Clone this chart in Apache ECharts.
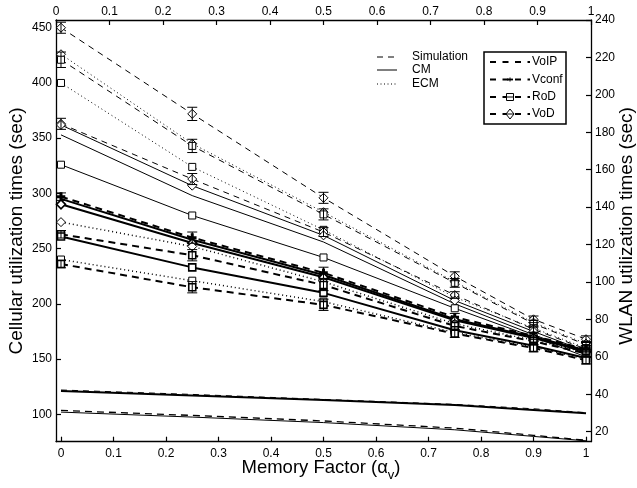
<!DOCTYPE html>
<html>
<head>
<meta charset="utf-8">
<script src="https://cdn.jsdelivr.net/npm/echarts@6/dist/echarts.min.js"></script>
<style>html,body{margin:0;padding:0;background:#fff}#c{width:637px;height:488px}</style>
</head>
<body>
<div id="c"></div>
<script>
// x positions (memory factor)
const xs = [0, 0.25, 0.5, 0.75, 0.9, 1];
const xTicks = [0, 0.1, 0.2, 0.3, 0.4, 0.5, 0.6, 0.7, 0.8, 0.9, 1];
const leftTicks = [100, 150, 200, 250, 300, 350, 400, 450];
const rightTicks = [20, 40, 60, 80, 100, 120, 140, 160, 180, 200, 220, 240];

// Cellular utilization (left axis, sec)
const cellVoDSim   = [450, 372, 296, 225, 186, 168];
const cellVoDSimErr= [5, 6, 5, 4, 3, 3];
const cellVoDEcm   = [426, 345, 283, 220, 183, 164];
const cellRoDSim   = [421, 343, 281, 219, 182, 163];
const cellRoDSimErr= [7, 6, 5, 4, 3, 3];
const cellRoDEcm   = [400, 324, 267, 206, 178, 160];
const cellVconfSim = [363, 313, 265, 208, 177, 159];
const cellVconfSimErr = [5, 5, 4, 3, 3, 2];
const cellVoDCM    = [362, 307, 262, 203, 175, 157];
const cellVconfCM  = [353, 298, 256, 200, 172, 155];
const cellRoDCM    = [326, 280, 242, 196, 170, 152];
const cellVoIPCM   = [121, 117, 113, 108.5, 104, 101];
const cellVoIPSim  = [122, 118, 113.5, 109, 105, 101.5];
const cellVoIPCM2  = [102, 97.5, 92.5, 86, 80, 76];
const cellVoIPSim2 = [103.5, 99, 94, 87.5, 81, 76.5];

// WLAN utilization (right axis, sec)
const wlanVconfSim = [145.6, 123.7, 104.9, 81.2, 71.2, 64.1];
const wlanVconfSimErr = [2, 3, 3, 2, 2, 2];
const wlanVoDCM    = [144.4, 122.6, 103.7, 80.1, 70.6, 63.5];
const wlanVoDCM2   = [141.5, 120.8, 102.5, 79.5, 70.0, 62.9];
const wlanVoDEcm   = [132.0, 119.0, 100.1, 77.7, 68.9, 62.4];
const wlanRoDSim   = [125.5, 114.3, 98.4, 76.5, 68.3, 61.8];
const wlanRoDSimErr= [2, 3, 3, 2, 2, 2];
const wlanRoDCM    = [124.3, 107.8, 94.2, 74.2, 65.9, 59.4];
const wlanRoDEcm   = [112.0, 100.7, 89.5, 73.0, 65.3, 58.8];
const wlanVoIPSim  = [109.6, 97.2, 87.8, 72.4, 64.7, 58.2];
const wlanVoIPSimErr = [2, 3, 3, 2, 2, 2];

const DASH = [6, 5], DASH_T = [7, 5], DOT = [1, 3];
const PLUS = 'path://M4,0L6,0L6,4L10,4L10,6L6,6L6,10L4,10L4,6L0,6L0,4L4,4Z';

function ln(name, vals, axis, type, width, symbol, size) {
  return {
    name, type: 'line', xAxisIndex: 0, yAxisIndex: axis,
    data: xs.map((x, i) => [x, vals[i]]),
    lineStyle: { color: '#000', width, type },
    symbol: symbol || 'none', symbolSize: size || 7,
    showSymbol: !!symbol,
    itemStyle: { color: symbol === PLUS ? '#000' : '#fff', borderColor: '#000', borderWidth: width > 1.5 ? 1.6 : 1 },
    animation: false, silent: true, z: 3
  };
}
function err(vals, errs, axis) {
  return {
    type: 'custom', xAxisIndex: 0, yAxisIndex: axis, silent: true, animation: false, z: 4,
    data: xs.map((x, i) => [x, vals[i], errs[i]]),
    encode: { x: 0, y: 1 },
    renderItem(params, api) {
      const x = api.value(0), y = api.value(1), e = api.value(2);
      const t = api.coord([x, y + e]), b = api.coord([x, y - e]);
      const st = { stroke: '#000', lineWidth: 1 };
      return { type: 'group', children: [
        { type: 'line', shape: { x1: t[0], y1: t[1], x2: b[0], y2: b[1] }, style: st },
        { type: 'line', shape: { x1: t[0] - 5, y1: t[1], x2: t[0] + 5, y2: t[1] }, style: st },
        { type: 'line', shape: { x1: b[0] - 5, y1: b[1], x2: b[0] + 5, y2: b[1] }, style: st }
      ]};
    }
  };
}

const series = [
  ln('cellVoDSim', cellVoDSim, 0, DASH, 1, 'diamond', 9),
  err(cellVoDSim, cellVoDSimErr, 0),
  ln('cellVoDEcm', cellVoDEcm, 0, DOT, 1, 'diamond', 9),
  ln('cellRoDSim', cellRoDSim, 0, DASH, 1, 'rect', 7),
  err(cellRoDSim, cellRoDSimErr, 0),
  ln('cellRoDEcm', cellRoDEcm, 0, DOT, 1, 'rect', 7),
  ln('cellVconfSim', cellVconfSim, 0, DASH, 1, 'diamond', 9),
  err(cellVconfSim, cellVconfSimErr, 0),
  ln('cellVoDCM', cellVoDCM, 0, 'solid', 1, 'diamond', 9),
  ln('cellVconfCM', cellVconfCM, 0, 'solid', 1),
  ln('cellRoDCM', cellRoDCM, 0, 'solid', 1, 'rect', 7),
  ln('cellVoIPCM', cellVoIPCM, 0, 'solid', 2),
  ln('cellVoIPSim', cellVoIPSim, 0, DASH, 1),
  ln('cellVoIPCM2', cellVoIPCM2, 0, 'solid', 1),
  ln('cellVoIPSim2', cellVoIPSim2, 0, DASH_T, 1.3),
  ln('wlanVconfSim', wlanVconfSim, 1, DASH_T, 2, PLUS, 7),
  err(wlanVconfSim, wlanVconfSimErr, 1),
  ln('wlanVoDCM', wlanVoDCM, 1, 'solid', 2),
  ln('wlanVoDCM2', wlanVoDCM2, 1, 'solid', 2, 'diamond', 9),
  ln('wlanVoDEcm', wlanVoDEcm, 1, DOT, 1.5, 'diamond', 9),
  ln('wlanRoDSim', wlanRoDSim, 1, DASH_T, 2, 'rect', 7),
  err(wlanRoDSim, wlanRoDSimErr, 1),
  ln('wlanRoDCM', wlanRoDCM, 1, 'solid', 2, 'rect', 7),
  ln('wlanRoDEcm', wlanRoDEcm, 1, DOT, 1.5, 'rect', 7),
  ln('wlanVoIPSim', wlanVoIPSim, 1, DASH_T, 2, 'rect', 7),
  err(wlanVoIPSim, wlanVoIPSimErr, 1)
];

const FONT = 'Liberation Sans, Arial, sans-serif';
const axisBase = {
  type: 'value',
  axisLine: { show: true, onZero: false, lineStyle: { color: '#000', width: 1.3 } },
  axisTick: { show: true, inside: true, length: 5, lineStyle: { color: '#000', width: 1.2 } },
  axisLabel: { color: '#000', fontSize: 12, fontFamily: FONT, margin: 5 },
  splitLine: { show: false }
};
const fmt = v => String(Math.round(v * 100) / 100);

const chart = echarts.init(document.getElementById('c'), null, { renderer: 'canvas' });

// legend graphics
const g = [];
const lgx = 377, lgx2 = 397;
[['Simulation', 57, DASH], ['CM', 70, null], ['ECM', 84, [1, 2.5]]].forEach(([t, y, d]) => {
  g.push({ type: 'line', shape: { x1: lgx, y1: y, x2: lgx2, y2: y }, style: { stroke: '#000', lineWidth: 1, lineDash: d } });
  g.push({ type: 'text', x: 412, y: y, style: { text: t, font: '12px ' + FONT, fill: '#000', textVerticalAlign: 'middle' } });
});
g.push({ type: 'rect', shape: { x: 484, y: 52, width: 82, height: 72 }, style: { fill: '#fff', stroke: '#000', lineWidth: 1.5 } });
[['VoIP', 62, 'none'], ['Vconf', 79.5, 'plus'], ['RoD', 97, 'rect'], ['VoD', 114, 'diamond']].forEach(([t, y, m]) => {
  g.push({ type: 'line', shape: { x1: 490, y1: y, x2: 530, y2: y }, style: { stroke: '#000', lineWidth: 1.8, lineDash: [6, 6.5] } });
  if (m === 'plus') {
    g.push({ type: 'line', shape: { x1: 507, y1: y, x2: 513, y2: y }, style: { stroke: '#000', lineWidth: 1.8 } });
    g.push({ type: 'line', shape: { x1: 510, y1: y - 2, x2: 510, y2: y + 2 }, style: { stroke: '#000', lineWidth: 1 } });
  } else if (m === 'rect') {
    g.push({ type: 'rect', shape: { x: 506.5, y: y - 3.5, width: 7, height: 7 }, style: { fill: '#fff', stroke: '#000', lineWidth: 1 } });
    g.push({ type: 'line', shape: { x1: 506.5, y1: y, x2: 513.5, y2: y }, style: { stroke: '#000', lineWidth: 1 } });
  } else if (m === 'diamond') {
    g.push({ type: 'polygon', shape: { points: [[510, y - 5], [514, y], [510, y + 5], [506, y]] }, style: { fill: '#fff', stroke: '#000', lineWidth: 1 } });
    g.push({ type: 'line', shape: { x1: 506, y1: y, x2: 514, y2: y }, style: { stroke: '#000', lineWidth: 1 } });
  }
  g.push({ type: 'text', x: 532, y: y, style: { text: t, font: '12px ' + FONT, fill: '#000', textVerticalAlign: 'middle' } });
});
// axis titles
g.push({ type: 'text', x: 17, y: 231, rotation: Math.PI / 2, style: { text: 'Cellular utilization times (sec)', font: '19px ' + FONT, fill: '#000', textAlign: 'center', textVerticalAlign: 'middle' } });
g.push({ type: 'text', x: 627, y: 226, rotation: Math.PI / 2, style: { text: 'WLAN utilization times (sec)', font: '19px ' + FONT, fill: '#000', textAlign: 'center', textVerticalAlign: 'middle' } });
g.push({ type: 'text', x: 321, y: 468, style: {
  text: 'Memory Factor (α{s|v})', font: '18.5px ' + FONT, fill: '#000', textAlign: 'center', textVerticalAlign: 'middle',
  rich: { s: { fontSize: 13, fontFamily: FONT, padding: [14, 0, 0, 0] } }
} });

chart.setOption({
  animation: false,
  backgroundColor: '#fff',
  grid: { left: 56, right: 46, top: 20, bottom: 46.3, containLabel: false },
  xAxis: [
    Object.assign({}, axisBase, {
      position: 'bottom', min: -0.0095, max: 1.0095,
      axisTick: Object.assign({}, axisBase.axisTick, { customValues: xTicks }),
      axisLabel: Object.assign({}, axisBase.axisLabel, { customValues: xTicks, formatter: fmt, margin: 6 })
    }),
    Object.assign({}, axisBase, {
      position: 'top', min: 0, max: 1,
      axisTick: Object.assign({}, axisBase.axisTick, { customValues: xTicks }),
      axisLabel: Object.assign({}, axisBase.axisLabel, { customValues: xTicks, formatter: fmt, margin: 2 })
    })
  ],
  yAxis: [
    Object.assign({}, axisBase, {
      position: 'left', min: 75.2, max: 457,
      axisTick: Object.assign({}, axisBase.axisTick, { customValues: leftTicks }),
      axisLabel: Object.assign({}, axisBase.axisLabel, { customValues: leftTicks, margin: 4 })
    }),
    Object.assign({}, axisBase, {
      position: 'right', min: 14.66, max: 240,
      axisTick: Object.assign({}, axisBase.axisTick, { customValues: rightTicks }),
      axisLabel: Object.assign({}, axisBase.axisLabel, { customValues: rightTicks, margin: 4 })
    })
  ],
  graphic: g,
  series
});
</script>
</body>
</html>
